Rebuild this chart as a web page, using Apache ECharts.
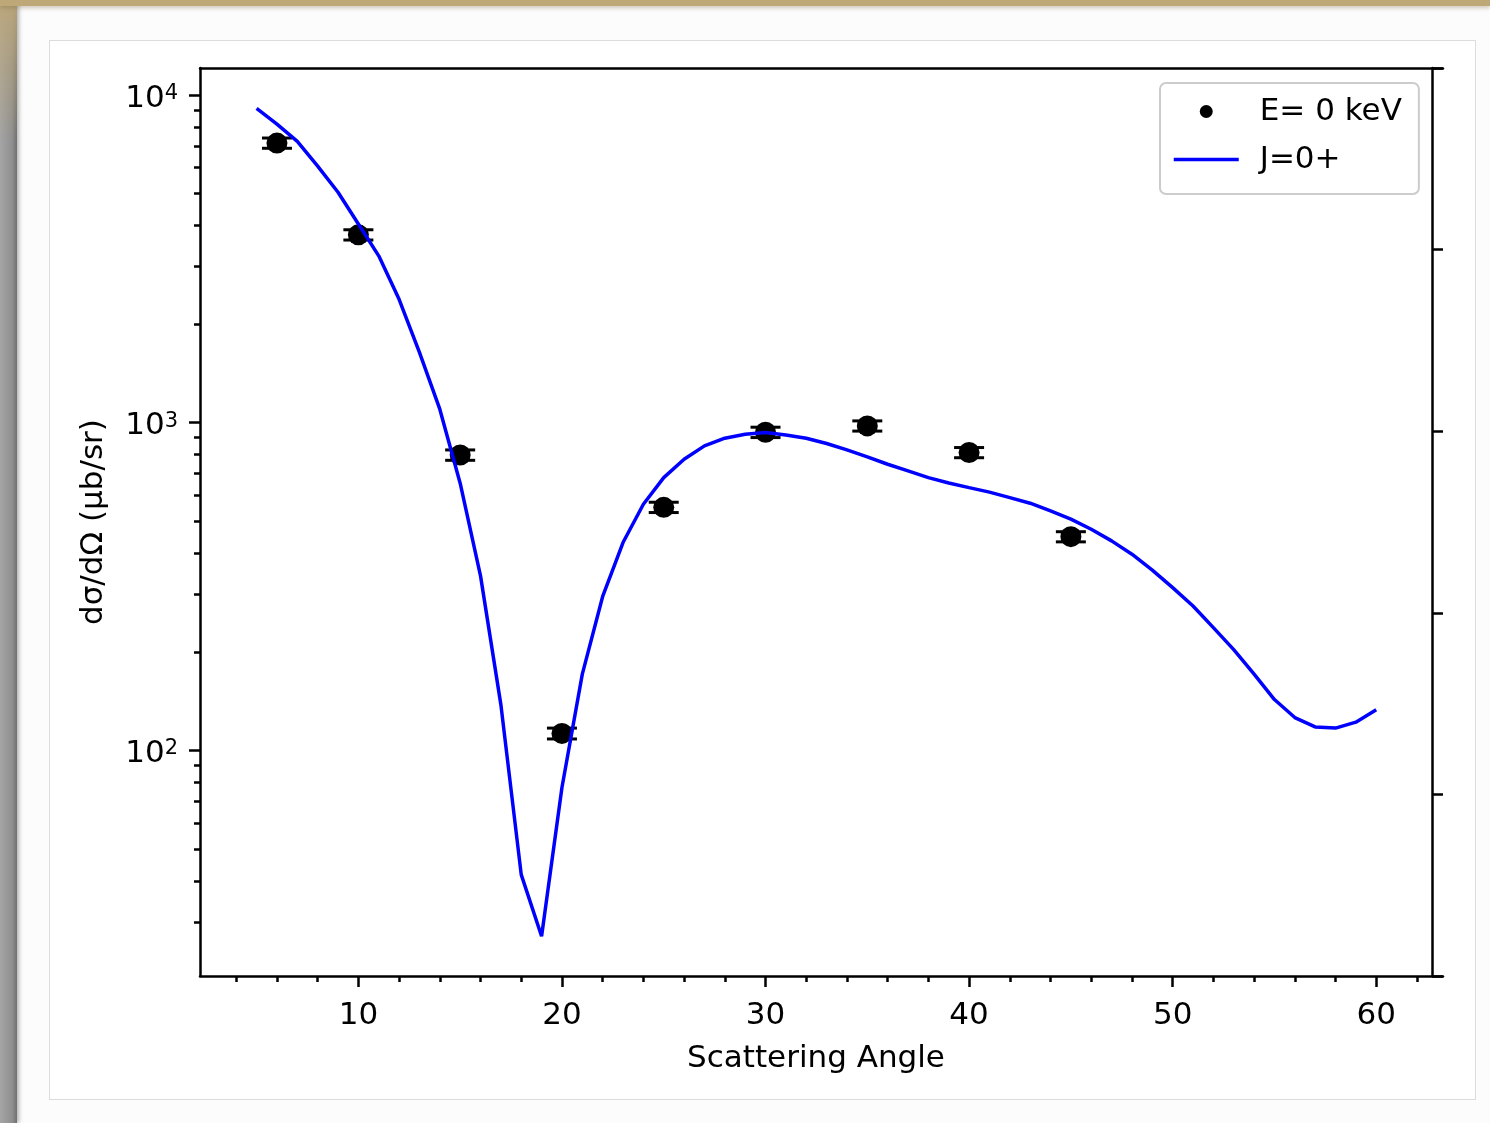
<!DOCTYPE html>
<html>
<head>
<meta charset="utf-8">
<title>Scattering cross section</title>
<script src="https://cdn.jsdelivr.net/npm/echarts@6/dist/echarts.min.js"></script>
<style>
	html, body { margin: 0; padding: 0; background: #ffffff; }
	#page { position: relative; width: 1490px; height: 1123px; overflow: hidden; background: #fcfcfc; }
	#topbar { position: absolute; left: 0; top: 0; width: 1490px; height: 6px; background: #bea878; box-shadow: 0 2px 4px rgba(120, 100, 60, 0.35); }
	#leftbar { position: absolute; left: 0; top: 0; width: 17px; height: 1123px;
		background: linear-gradient(to bottom, rgba(190, 168, 120, 0.9), rgba(190, 168, 120, 0) 140px), linear-gradient(to right, #a5a5a5, #909090 70%, #707070);
		box-shadow: 2px 0 4px rgba(0, 0, 0, 0.3); }
	#panel { position: absolute; left: 49px; top: 40px; width: 1425px; height: 1058px; border: 1px solid #dcdcdc; background: #ffffff; }
	#chart { position: absolute; left: 0; top: 0; width: 1490px; height: 1123px; }
</style>
</head>
<body>
<div id="page">
	<div id="panel"></div>
	<div id="leftbar"></div>
	<div id="topbar"></div>
	<div id="chart"></div>
</div>
<script>
// fit curve J=0+ (angle in deg, dσ/dΩ in μb/sr)
const fitAngles = [5, 6, 7, 8, 9, 10, 11, 12, 13, 14, 15, 16, 17, 18, 19, 20, 21, 22, 23, 24, 25, 26, 27, 28, 29, 30,
	31, 32, 33, 34, 35, 36, 37, 38, 39, 40, 41, 42, 43, 44, 45, 46, 47, 48, 49, 50, 51, 52, 53, 54, 55, 56, 57, 58, 59, 60];
const fitValues = [9100, 8150, 7220, 6070, 5050, 4040, 3230, 2380, 1640, 1100, 654, 341, 138, 41.8, 27.1, 77.1, 171, 295, 431, 564, 680, 774, 850, 897, 922, 934,
	918, 897, 864, 826, 787, 747, 713, 680, 655, 634, 614, 591, 568, 538, 508, 473, 436, 397, 355, 314, 276, 237, 203, 171, 143, 126, 118, 117, 122, 133];

// measured points E= 0 keV
const expAngles = [6, 10, 15, 20, 25, 30, 35, 40, 45];
const expValues = [7135, 3745, 797, 112.7, 552, 935, 978, 811, 449];
const expErrors = [257, 135, 29, 4.3, 20, 34, 35, 29, 16];

// ticks
const xMajorTicks = [10, 20, 30, 40, 50, 60];
const xMinorTicks = [4, 6, 8, 12, 14, 16, 18, 22, 24, 26, 28, 32, 34, 36, 38, 42, 44, 46, 48, 52, 54, 56, 58, 62];
const yMajorTicks = [100, 1000, 10000];
const yMinorTicks = [30, 40, 50, 60, 70, 80, 90, 200, 300, 400, 500, 600, 700, 800, 900,
	2000, 3000, 4000, 5000, 6000, 7000, 8000, 9000];

const xMin = 2.22, xMax = 63.28;
const yMin = 20.5, yMax = 12090;

const font = 'DejaVu Sans';
const black = '#000000';
const blue = '#0000ff';
const spine = { color: black, width: 2.5 };

let chart = echarts.init(document.getElementById('chart'));

let option = {
	animation: false,
	textStyle: { fontFamily: font },
	grid: { left: 200, right: 47, top: 68, bottom: 147 },
	legend: {
		orient: 'vertical',
		left: 1160,
		top: 83,
		padding: [13, 17, 19, 12],
		itemWidth: 65,
		itemHeight: 13,
		itemGap: 17,
		backgroundColor: '#ffffff',
		borderColor: '#cccccc',
		borderWidth: 2,
		borderRadius: 6,
		textStyle: { fontSize: 31, color: black, fontFamily: font, lineHeight: 31, padding: [0, 0, 0, 16] },
		data: [
			{ name: 'E= 0 keV', icon: 'circle', itemStyle: { color: black, opacity: 1 } },
			// line only, no marker in the key
			{
				name: 'J=0+',
				itemStyle: { color: 'rgba(0,0,0,0)', borderColor: 'rgba(0,0,0,0)', borderWidth: 0 },
				lineStyle: { color: blue, width: 3.5 }
			}
		]
	},
	xAxis: [
		{
			type: 'value', position: 'bottom', min: xMin, max: xMax,
			name: 'Scattering Angle', nameLocation: 'middle', nameGap: 67,
			nameTextStyle: { fontSize: 31, color: black, fontFamily: font, padding: [0, 11, 0, 0] },
			axisLine: { show: true, lineStyle: spine },
			axisTick: { show: true, customValues: xMajorTicks, length: 11, lineStyle: spine },
			axisLabel: { customValues: xMajorTicks, fontSize: 31, color: black, margin: 24, fontFamily: font },
			splitLine: { show: false }
		},
		{
			type: 'value', position: 'bottom', min: xMin, max: xMax,
			axisLine: { show: false },
			axisTick: { show: true, customValues: xMinorTicks, length: 6, lineStyle: spine },
			axisLabel: { show: false },
			splitLine: { show: false }
		},
		{
			type: 'value', position: 'top', min: xMin, max: xMax,
			axisLine: { show: true, lineStyle: spine },
			axisTick: { show: false },
			axisLabel: { show: false },
			splitLine: { show: false }
		}
	],
	yAxis: [
		{
			type: 'log', logBase: 10, position: 'left', min: yMin, max: yMax,
			name: 'dσ/dΩ (μb/sr)', nameLocation: 'middle', nameRotate: 90, nameGap: 91,
			nameTextStyle: { fontSize: 31, color: black, fontFamily: font },
			axisLine: { show: true, lineStyle: spine },
			axisTick: { show: true, customValues: yMajorTicks, length: 11, lineStyle: spine },
			axisLabel: {
				customValues: yMajorTicks,
				margin: 22,
				padding: [7, 0, 0, 0],
				formatter: (v) => '{b|10}{s|' + Math.round(Math.log10(v)) + '}',
				rich: {
					b: { fontSize: 31, lineHeight: 31, color: black, fontFamily: font },
					s: { fontSize: 21, lineHeight: 20, color: black, fontFamily: font, verticalAlign: 'top' }
				}
			},
			splitLine: { show: false }
		},
		{
			type: 'log', logBase: 10, position: 'left', min: yMin, max: yMax,
			axisLine: { show: false },
			axisTick: { show: true, customValues: yMinorTicks, length: 6, lineStyle: spine },
			axisLabel: { show: false },
			splitLine: { show: false }
		},
		{
			// twin axis on the right, labels hidden
			type: 'value', position: 'right', offset: -11, min: 0, max: 5, interval: 1,
			axisLine: { show: true, lineStyle: spine },
			axisTick: { show: true, length: 11, lineStyle: spine },
			axisLabel: { show: false },
			splitLine: { show: false }
		}
	],
	series: [
		{
			type: 'custom',
			name: 'errors',
			xAxisIndex: 0,
			yAxisIndex: 0,
			silent: true,
			z: 2,
			encode: { x: 0, y: 1 },
			data: expAngles.map((a, i) => [a, expValues[i], expErrors[i]]),
			renderItem: function (params, api) {
				let hi = api.coord([api.value(0), api.value(1) + api.value(2)]);
				let lo = api.coord([api.value(0), api.value(1) - api.value(2)]);
				let w = 15;
				let st = { stroke: black, lineWidth: 3 };
				return {
					type: 'group',
					children: [
						{ type: 'line', shape: { x1: hi[0], y1: hi[1], x2: lo[0], y2: lo[1] }, style: st },
						{ type: 'line', shape: { x1: hi[0] - w, y1: hi[1], x2: hi[0] + w, y2: hi[1] }, style: st },
						{ type: 'line', shape: { x1: lo[0] - w, y1: lo[1], x2: lo[0] + w, y2: lo[1] }, style: st }
					]
				};
			}
		},
		{
			type: 'scatter',
			name: 'E= 0 keV',
			xAxisIndex: 0,
			yAxisIndex: 0,
			symbol: 'circle',
			symbolSize: 21,
			z: 3,
			itemStyle: { color: black, opacity: 1 },
			data: expAngles.map((a, i) => [a, expValues[i]])
		},
		{
			type: 'line',
			name: 'J=0+',
			xAxisIndex: 0,
			yAxisIndex: 0,
			symbol: 'none',
			smooth: false,
			z: 4,
			itemStyle: { color: blue },
			lineStyle: { color: blue, width: 3.5 },
			data: fitAngles.map((a, i) => [a, fitValues[i]])
		}
	]
};
chart.setOption(option);
window.addEventListener('resize', () => chart.resize(), false);
</script>
</body>
</html>
